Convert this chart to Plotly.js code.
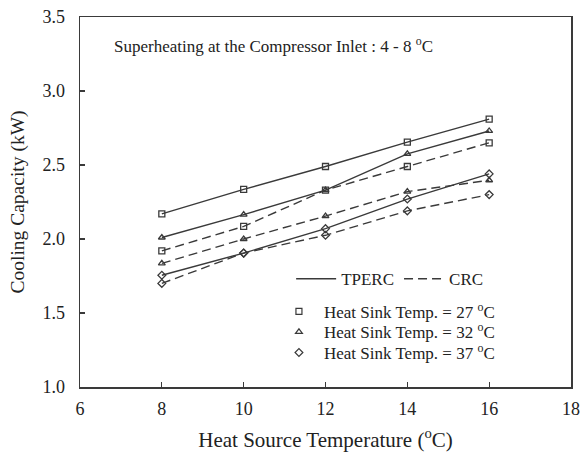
<!DOCTYPE html>
<html><head><meta charset="utf-8">
<script src="https://cdn.plot.ly/plotly-3.0.1.min.js"></script>
<style>html,body{margin:0;padding:0;background:#fff;}#chart{width:583px;height:463px;}</style>
</head><body><div id="chart"></div>
<script>
const heatSource = [8, 10, 12, 14, 16];
const tperc27 = [2.17, 2.335, 2.49, 2.655, 2.81];
const tperc32 = [2.01, 2.165, 2.33, 2.575, 2.73];
const tperc37 = [1.755, 1.905, 2.07, 2.27, 2.44];
const crc27 = [1.92, 2.085, 2.33, 2.49, 2.65];
const crc32 = [1.835, 2.0, 2.155, 2.32, 2.397];
const crc37 = [1.70, 1.905, 2.025, 2.19, 2.30];
const xTicks = [6, 8, 10, 12, 14, 16, 18];
const yTicks = [1.0, 1.5, 2.0, 2.5, 3.0, 3.5];
const sinkLabels = ['Heat Sink Temp. = 27 <sup>o</sup>C', 'Heat Sink Temp. = 32 <sup>o</sup>C', 'Heat Sink Temp. = 37 <sup>o</sup>C'];

const ink = '#3a3a3a';
const font = '"Liberation Serif", "Times New Roman", Times, serif';
function series(y, symbol, dash) {
  return {x: heatSource, y: y, mode: 'lines+markers', showlegend: false,
    line: {color: ink, width: 1.4, dash: dash},
    marker: {symbol: symbol, size: 6, color: ink, line: {color: ink, width: 1.3}}};
}
const dashPat = '9px,5px';
const symbols = ['square-open', 'triangle-up-open', 'diamond-open'];
const traces = [
  series(tperc27, symbols[0], 'solid'),
  series(tperc32, symbols[1], 'solid'),
  series(tperc37, symbols[2], 'solid'),
  series(crc27, symbols[0], dashPat),
  series(crc32, symbols[1], dashPat),
  series(crc37, symbols[2], dashPat),
  {x:[null], y:[null], mode:'lines', name:'TPERC', legend:'legend', line:{color:ink, width:1.4}},
  {x:[null], y:[null], mode:'lines', name:'CRC', legend:'legend', line:{color:ink, width:1.4, dash:dashPat}}
];
const rowY = [0.203, 0.148, 0.092];
const layout = {
  width:583, height:463,
  margin:{l:80, r:12, t:17, b:76},
  paper_bgcolor:'#fff', plot_bgcolor:'#fff',
  font:{family:font, color:'#222'},
  legend:{orientation:'h', x:0.43, y:0.34, xanchor:'left', yanchor:'top', bgcolor:'rgba(0,0,0,0)',
    font:{family:font, size:17, color:'#222'}, itemwidth:40, tracegroupgap:0},
  annotations:[{xref:'paper', yref:'paper', x:0.065, y:0.925, xanchor:'left', yanchor:'middle',
    text:'Superheating at the Compressor Inlet : 4 - 8 <sup>o</sup>C', showarrow:false,
    font:{family:font, size:17, color:'#222'}}]
};
sinkLabels.forEach((lab, i) => {
  const key = 'legend' + (i + 2);
  traces.push({x:[null], y:[null], mode:'markers', name:lab, legend:key,
    marker:{symbol:symbols[i], size:6, color:ink, line:{color:ink,width:1.2}}});
  layout[key] = {orientation:'v', x:0.395, y:rowY[i], xanchor:'left', yanchor:'middle', bgcolor:'rgba(0,0,0,0)',
    font:{family:font, size:17, color:'#222'}, itemwidth:40, tracegroupgap:0};
});

const axisCommon = {showgrid:false, zeroline:false, showline:true, linecolor:ink, linewidth:1.5,
  mirror:true, ticks:'inside', ticklen:5, tickcolor:ink, tickwidth:1.2,
  tickfont:{family:font, size:18, color:'#222'}};
layout.xaxis = Object.assign({}, axisCommon, {range:[6,18], tickvals:xTicks, ticktext:xTicks.map(String),
    ticklabelstandoff:5,
    title:{text:'Heat Source Temperature (<sup>o</sup>C)', font:{family:font, size:21, color:'#222'}, standoff:14}});
layout.yaxis = Object.assign({}, axisCommon, {range:[1.0,3.5], tickvals:yTicks, ticktext:yTicks.map(v=>v.toFixed(1)),
    ticklabelstandoff:10,
    title:{text:'Cooling Capacity (kW)', font:{family:font, size:19.5, color:'#222'}, standoff:12}});

Plotly.newPlot('chart', traces, layout, {displayModeBar:false, staticPlot:true});
</script></body></html>
